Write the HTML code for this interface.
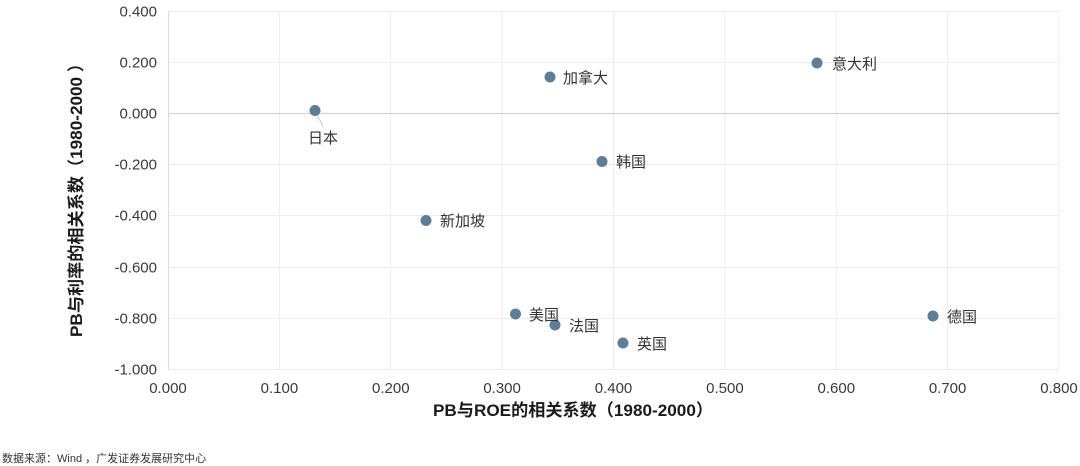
<!DOCTYPE html>
<html><head><meta charset="utf-8"><style>
html,body{margin:0;padding:0;background:#fff;}
svg{display:block;}
text{font-family:"Liberation Sans","Noto Sans CJK SC",sans-serif;}
</style></head><body>
<svg width="1080" height="466" viewBox="0 0 1080 466" xmlns="http://www.w3.org/2000/svg">
<rect width="1080" height="466" fill="#fff"/>
<g stroke="#ececec" stroke-width="1">
<line x1="279.4" y1="11" x2="279.4" y2="369"/>
<line x1="390.8" y1="11" x2="390.8" y2="369"/>
<line x1="502.1" y1="11" x2="502.1" y2="369"/>
<line x1="613.5" y1="11" x2="613.5" y2="369"/>
<line x1="724.9" y1="11" x2="724.9" y2="369"/>
<line x1="836.3" y1="11" x2="836.3" y2="369"/>
<line x1="947.6" y1="11" x2="947.6" y2="369"/>
<line x1="1059" y1="11" x2="1059" y2="369"/>
<line x1="168" y1="11.5" x2="1059" y2="11.5"/>
<line x1="168" y1="62.5" x2="1059" y2="62.5"/>
<line x1="168" y1="164.5" x2="1059" y2="164.5"/>
<line x1="168" y1="215.5" x2="1059" y2="215.5"/>
<line x1="168" y1="267.5" x2="1059" y2="267.5"/>
<line x1="168" y1="318.5" x2="1059" y2="318.5"/>
<line x1="168" y1="369.5" x2="1059" y2="369.5"/>
</g>
<line x1="168" y1="113.5" x2="1059" y2="113.5" stroke="#d4d4d4" stroke-width="1.2"/>
<line x1="168.5" y1="11" x2="168.5" y2="369" stroke="#dcdcdc" stroke-width="1.2"/>

<g font-size="15" fill="#3a3a3a" text-anchor="end">
<text x="157" y="16.5">0.400</text>
<text x="157" y="67.5">0.200</text>
<text x="157" y="118.5">0.000</text>
<text x="157" y="169.5">-0.200</text>
<text x="157" y="220.5">-0.400</text>
<text x="157" y="272.5">-0.600</text>
<text x="157" y="323.5">-0.800</text>
<text x="157" y="374.5">-1.000</text>
</g>
<g font-size="15" fill="#3a3a3a" text-anchor="middle">
<text x="168" y="393">0.000</text>
<text x="279.4" y="393">0.100</text>
<text x="390.8" y="393">0.200</text>
<text x="502.1" y="393">0.300</text>
<text x="613.5" y="393">0.400</text>
<text x="724.9" y="393">0.500</text>
<text x="836.3" y="393">0.600</text>
<text x="947.6" y="393">0.700</text>
<text x="1059" y="393">0.800</text>
</g>

<text x="573" y="416" font-size="17" font-weight="bold" fill="#1a1a1a" text-anchor="middle" textLength="280" lengthAdjust="spacingAndGlyphs">PB与ROE的相关系数（1980-2000）</text>
<text transform="translate(82,196) rotate(-90)" x="0" y="0" font-size="17" font-weight="bold" fill="#1a1a1a" text-anchor="middle" textLength="282" lengthAdjust="spacingAndGlyphs">PB与利率的相关系数（1980-2000 ）</text>

<line x1="317" y1="115" x2="323" y2="126" stroke="#c8c8c8" stroke-width="1"/>

<g fill="#5e7d98">
<circle cx="315" cy="110.5" r="5.5"/>
<circle cx="550" cy="77" r="5.5"/>
<circle cx="817" cy="63" r="5.5"/>
<circle cx="602" cy="161.5" r="5.5"/>
<circle cx="426" cy="220.5" r="5.5"/>
<circle cx="515.5" cy="314" r="5.5"/>
<circle cx="555" cy="325" r="5.5"/>
<circle cx="623" cy="343" r="5.5"/>
<circle cx="933" cy="316" r="5.5"/>
</g>

<g font-size="15" fill="#333">
<text x="308" y="143">日本</text>
<text x="563" y="83">加拿大</text>
<text x="832" y="69">意大利</text>
<text x="616" y="167">韩国</text>
<text x="440" y="226">新加坡</text>
<text x="529" y="320">美国</text>
<text x="569" y="331">法国</text>
<text x="637" y="349">英国</text>
<text x="947" y="322">德国</text>
</g>

<text x="2" y="462" font-size="11" fill="#333">数据来源：Wind ，广发证券发展研究中心</text>
</svg>
</body></html>
